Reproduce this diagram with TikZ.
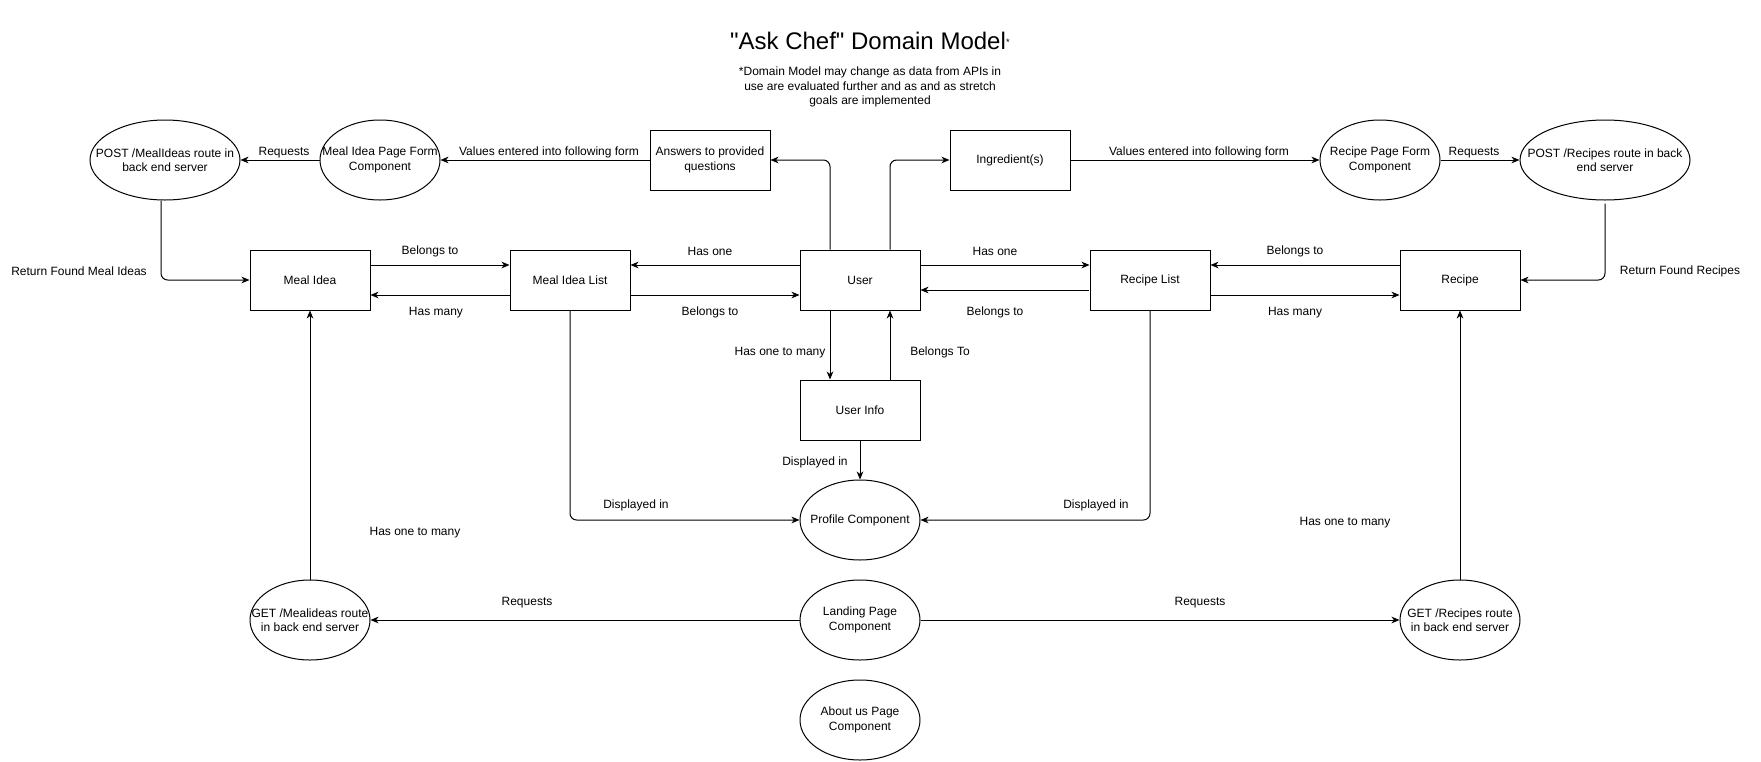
\documentclass[tikz,border=0pt]{standalone}
\usepackage{fontspec}
\setmainfont{Liberation Sans}
\newfontfamily\titlefont{Liberation Sans}[Ligatures=TeXOff]
\usetikzlibrary{shapes.geometric,arrows.meta,calc}
\begin{document}
\begin{tikzpicture}[x=0.75pt,y=-0.75pt,
  every node/.style={font=\fontsize{9pt}{10.8pt}\selectfont},
  box/.style={draw,line width=0.75pt,minimum width=90pt,minimum height=45pt,inner sep=0pt,align=center},
  ell/.style={draw,ellipse,line width=0.75pt,minimum width=90pt,minimum height=60pt,inner sep=0pt},
  inl/.style={align=center,inner sep=0pt},
  conn/.style={line width=0.75pt,-{Stealth[length=6pt,width=5pt,inset=1.8pt]},rounded corners=5pt},
  lab/.style={inner sep=0pt,align=center,yshift=-1.2pt}
]
\fill[white] (0,0) rectangle (1761,761);
\useasboundingbox (0,0) rectangle (1761,761);

% title
\node[inner sep=0pt,font=\titlefont\fontsize{18pt}{21.6pt}\selectfont] (title) at (868,41) {"Ask Chef" Domain Model};
\node[inner sep=0pt,font=\fontsize{7pt}{7pt}\selectfont] (star) at (1008,42) {*};
\node[lab] (note) at (870,85.5) {*Domain Model may change as data from APIs in\\use are evaluated further and as and as stretch\\goals are implemented};

% boxes
\node[box] (mi)  at (310,280) {Meal Idea};
\node[box] (mil) at (570,280) {Meal Idea List};
\node[box] (user) at (860,280) {User};
\node[box] (rl)  at (1150,280) {Recipe List};
\node[box] (rec) at (1460,280) {Recipe};
\node[box] (ans) at (710,160) {Answers to provided\\questions};
\node[box] (ing) at (1010,160) {Ingredient(s)};
\node[box] (uinfo) at (860,410) {User Info};

% ellipses
\node[ell,minimum width=112.5pt,label={[inl]center:{POST /MealIdeas route in\\back end server}}] (postm) at (165,160) {};
\node[ell,label={[inl]center:{Meal Idea Page Form\\Component}}] (mform) at (380,160) {};
\node[ell,label={[inl]center:{Recipe Page Form\\Component}}] (rform) at (1380,160) {};
\node[ell,minimum width=127.5pt,label={[inl]center:{POST /Recipes route in back\\end server}}] (postr) at (1605,160) {};
\node[ell,label={[inl]center:{Profile Component}}] (prof) at (860,520) {};
\node[ell,label={[inl]center:{Landing Page\\Component}}] (land) at (860,620) {};
\node[ell,label={[inl]center:{About us Page\\Component}}] (about) at (860,720) {};
\node[ell,label={[inl]center:{GET /Mealideas route\\in back end server}}] (getm) at (310,620) {};
\node[ell,label={[inl]center:{GET /Recipes route\\in back end server}}] (getr) at (1460,620) {};

% top row connectors
\draw[conn] (mform.west) -- (postm.east);
\draw[conn] (ans.west) -- (mform.east);
\draw[conn] ($(user.north)+(-30,0)$) |- (ans.east);
\draw[conn] ($(user.north)+(30,0)$) |- (ing.west);
\draw[conn] (ing.east) -- (rform.west);
\draw[conn] (rform.east) -- (postr.west);
\draw[conn] ($(postr.south)+(0,3)$) |- (rec.east);
\draw[conn] ($(postm.south)+(-4,0)$) |- (mi.west);

% middle row connectors
\draw[conn] ($(mi.east)+(0,-15)$) -- ($(mil.west)+(0,-15)$);
\draw[conn] ($(mil.west)+(0,15)$) -- ($(mi.east)+(0,15)$);
\draw[conn] ($(user.west)+(0,-15)$) -- ($(mil.east)+(0,-15)$);
\draw[conn] ($(mil.east)+(0,15)$) -- ($(user.west)+(0,15)$);
\draw[conn] ($(user.east)+(0,-15)$) -- ($(rl.west)+(0,-15)$);
\draw[conn] ($(rl.west)+(-1,10)$) -- ($(user.east)+(0,10)$);
\draw[conn] ($(rec.west)+(0,-15)$) -- ($(rl.east)+(0,-15)$);
\draw[conn] ($(rl.east)+(0,15)$) -- ($(rec.west)+(0,15)$);

% user info
\draw[conn] ($(user.south)+(-30,0)$) -- ($(uinfo.north)+(-30,0)$);
\draw[conn] ($(uinfo.north)+(30,0)$) -- ($(user.south)+(30,0)$);
\draw[conn] (uinfo.south) -- (prof.north);
\draw[conn] (mil.south) |- (prof.west);
\draw[conn] (rl.south) |- (prof.east);

% bottom
\draw[conn] (land.west) -- (getm.east);
\draw[conn] (land.east) -- (getr.west);
\draw[conn] (getm.north) -- (mi.south);
\draw[conn] (getr.north) -- (rec.south);

% labels
\node[lab] (l1) at (284,151) {Requests};
\node[lab] (l2) at (549,151) {Values entered into following form};
\node[lab] (l3) at (1199,151) {Values entered into following form};
\node[lab] (l4) at (1474,151) {Requests};
\node[lab] (l5) at (79,270) {Return Found Meal Ideas};
\node[lab] (l6) at (1680,270) {Return Found Recipes};
\node[lab] (l7) at (430,250) {Belongs to};
\node[lab] (l8) at (436,311) {Has many};
\node[lab] (l9) at (710,250) {Has one};
\node[lab] (l10) at (710,311) {Belongs to};
\node[lab] (l11) at (995,250) {Has one};
\node[lab] (l12) at (995,311) {Belongs to};
\node[lab] (l13) at (1295,250) {Belongs to};
\node[lab] (l14) at (1295,311) {Has many};
\node[lab] (l15) at (780,351) {Has one to many};
\node[lab] (l16) at (940,351) {Belongs To};
\node[lab] (l17) at (815,461) {Displayed in};
\node[lab] (l18) at (636,504) {Displayed in};
\node[lab] (l19) at (1096,504) {Displayed in};
\node[lab] (l20) at (527,601) {Requests};
\node[lab] (l21) at (1200,601) {Requests};
\node[lab] (l22) at (415,531) {Has one to many};
\node[lab] (l23) at (1345,521) {Has one to many};
\end{tikzpicture}
\end{document}
